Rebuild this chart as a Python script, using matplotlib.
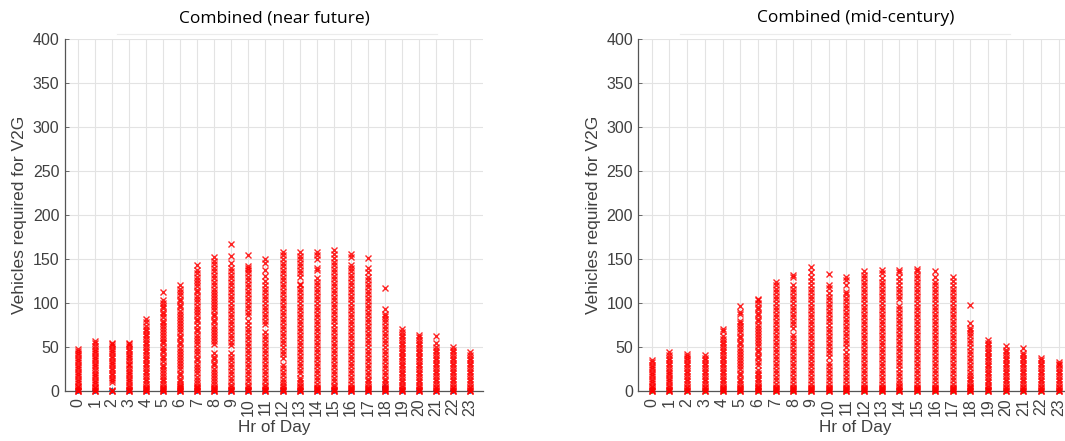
import matplotlib.pyplot as plt
from matplotlib.lines import Line2D

hours = list(range(24))
hour_labels = [str(h) for h in hours]

# near future: red x values per hour
near_future = [
    [0, 0, 1, 2, 4, 6, 9, 11, 14, 17, 19, 22, 25, 27, 30, 33, 35, 38, 41, 43, 46, 48],
    [0, 0, 1, 3, 5, 8, 10, 13, 16, 18, 21, 24, 27, 29, 32, 35, 37, 40, 43, 45, 48, 51, 54, 57],
    [0, 0, 1, 10, 13, 15, 18, 21, 24, 26, 29, 32, 34, 37, 40, 43, 45, 48, 51, 53, 55],
    [0, 0, 1, 2, 4, 7, 10, 12, 15, 18, 21, 23, 26, 29, 31, 34, 37, 40, 42, 45, 48, 51, 53, 55],
    [0, 0, 1, 2, 3, 5, 8, 11, 14, 17, 20, 23, 26, 29, 32, 35, 38, 41, 44, 47, 50, 53, 56, 59, 62, 65, 68, 71, 74, 78, 82],
    [0, 0, 1, 2, 3, 5, 8, 11, 14, 17, 20, 24, 27, 30, 34, 37, 40, 44, 47, 50, 54, 57, 60, 64, 67, 70, 74, 77, 80, 84, 87, 90, 94, 97, 100, 103, 112],
    [0, 0, 1, 2, 3, 4, 6, 8, 11, 14, 18, 21, 25, 28, 32, 35, 39, 42, 46, 49, 53, 56, 60, 63, 67, 70, 74, 77, 81, 84, 88, 91, 95, 98, 102, 105, 109, 112, 116, 120],
    [0, 0, 1, 2, 3, 4, 6, 9, 13, 16, 20, 24, 27, 31, 35, 38, 42, 46, 49, 53, 57, 60, 64, 68, 71, 75, 79, 82, 86, 90, 93, 97, 101, 104, 108, 112, 115, 119, 123, 126, 130, 134, 138, 143],
    [0, 0, 1, 2, 3, 5, 8, 11, 15, 18, 22, 25, 29, 32, 36, 39, 43, 53, 57, 60, 64, 67, 71, 74, 78, 81, 85, 88, 92, 95, 99, 102, 106, 109, 113, 116, 120, 124, 128, 132, 136, 140, 144, 148, 152],
    [0, 0, 1, 2, 4, 7, 11, 15, 19, 23, 27, 31, 35, 39, 43, 52, 56, 60, 64, 68, 72, 76, 80, 84, 88, 92, 96, 100, 104, 108, 112, 116, 120, 124, 128, 132, 136, 140, 145, 153, 167],
    [0, 0, 1, 2, 4, 7, 11, 15, 19, 23, 27, 31, 35, 39, 43, 47, 51, 55, 59, 63, 67, 71, 75, 79, 86, 90, 94, 98, 102, 106, 110, 114, 118, 122, 126, 130, 134, 138, 140, 142, 155],
    [0, 0, 1, 2, 4, 7, 11, 15, 19, 23, 27, 31, 35, 39, 43, 47, 51, 55, 59, 63, 67, 76, 80, 84, 88, 92, 96, 100, 104, 108, 112, 116, 120, 125, 131, 138, 145, 150],
    [0, 0, 1, 2, 4, 7, 10, 14, 18, 22, 26, 30, 38, 42, 46, 50, 54, 58, 62, 66, 70, 74, 78, 82, 86, 90, 94, 98, 102, 106, 110, 114, 118, 122, 126, 130, 134, 138, 142, 146, 150, 155, 158],
    [0, 0, 1, 2, 4, 6, 9, 12, 15, 20, 24, 28, 32, 36, 40, 44, 48, 52, 56, 60, 64, 68, 72, 76, 80, 84, 88, 92, 95, 100, 104, 108, 112, 116, 120, 122, 130, 134, 138, 142, 146, 150, 154, 158],
    [0, 0, 1, 2, 3, 5, 8, 12, 16, 20, 24, 28, 32, 36, 40, 44, 48, 52, 56, 60, 64, 68, 72, 76, 80, 84, 88, 92, 96, 100, 104, 108, 112, 116, 120, 124, 128, 138, 140, 150, 155, 158],
    [0, 0, 1, 2, 4, 7, 11, 15, 19, 23, 27, 31, 35, 39, 43, 47, 51, 55, 59, 63, 67, 71, 75, 79, 83, 87, 91, 95, 99, 103, 107, 111, 115, 119, 123, 127, 131, 135, 139, 143, 147, 151, 156, 160],
    [0, 0, 1, 2, 3, 5, 8, 12, 16, 20, 24, 28, 32, 36, 40, 44, 48, 52, 56, 60, 64, 68, 72, 76, 80, 84, 88, 92, 96, 100, 104, 108, 112, 116, 120, 124, 128, 132, 136, 140, 143, 152, 156],
    [0, 0, 1, 2, 3, 5, 8, 11, 14, 18, 22, 26, 30, 34, 38, 42, 46, 50, 54, 58, 62, 66, 70, 74, 78, 82, 86, 90, 94, 98, 102, 106, 110, 114, 118, 122, 126, 130, 135, 140, 151],
    [0, 0, 1, 2, 3, 5, 8, 11, 14, 18, 22, 26, 30, 34, 38, 42, 46, 50, 54, 58, 62, 66, 70, 74, 78, 82, 85, 88, 93, 117],
    [0, 0, 1, 2, 4, 7, 10, 13, 16, 19, 22, 25, 28, 31, 34, 37, 40, 43, 46, 49, 52, 55, 58, 61, 64, 67, 70],
    [0, 0, 1, 2, 4, 7, 10, 13, 16, 19, 22, 25, 28, 31, 34, 37, 40, 43, 46, 49, 52, 55, 58, 61, 64],
    [0, 0, 1, 3, 5, 8, 11, 14, 17, 20, 23, 26, 29, 32, 35, 38, 41, 44, 47, 50, 55, 62],
    [0, 0, 1, 3, 5, 8, 11, 14, 17, 20, 23, 26, 29, 32, 35, 38, 41, 44, 47, 50],
    [0, 0, 1, 3, 5, 8, 11, 14, 17, 20, 23, 26, 29, 32, 35, 38, 41, 44],
]

# mid-century: red x values per hour
mid_century = [
    [0, 0, 1, 2, 4, 6, 9, 11, 14, 17, 19, 22, 25, 27, 30, 33, 35],
    [0, 0, 1, 2, 4, 7, 10, 12, 15, 18, 21, 23, 26, 29, 32, 35, 38, 41, 44],
    [0, 0, 1, 3, 5, 8, 11, 14, 17, 20, 23, 26, 29, 32, 35, 38, 40, 42],
    [0, 0, 1, 3, 5, 8, 11, 14, 17, 20, 23, 26, 29, 32, 35, 38, 41],
    [0, 0, 1, 2, 3, 5, 8, 11, 14, 17, 20, 23, 26, 29, 32, 35, 38, 41, 44, 47, 50, 53, 56, 59, 62, 68, 71],
    [0, 0, 1, 2, 3, 5, 8, 11, 14, 18, 21, 25, 28, 32, 35, 39, 42, 46, 49, 53, 56, 60, 63, 67, 70, 74, 77, 80, 87, 90, 97],
    [0, 0, 1, 2, 3, 4, 6, 9, 12, 15, 18, 21, 24, 30, 33, 37, 40, 44, 47, 51, 54, 58, 61, 65, 68, 72, 75, 79, 82, 86, 89, 93, 96, 100, 103, 105],
    [0, 0, 1, 2, 3, 5, 8, 12, 16, 20, 24, 28, 32, 36, 40, 44, 48, 52, 56, 60, 64, 68, 72, 76, 80, 84, 88, 92, 96, 100, 104, 108, 112, 116, 120, 124],
    [0, 0, 1, 2, 3, 5, 8, 12, 16, 20, 24, 28, 32, 36, 40, 44, 48, 52, 56, 60, 64, 72, 76, 80, 84, 88, 92, 96, 100, 104, 108, 112, 116, 120, 130, 132],
    [0, 0, 1, 2, 3, 5, 8, 12, 16, 20, 24, 28, 32, 36, 40, 44, 48, 52, 56, 60, 64, 68, 72, 76, 80, 84, 88, 92, 96, 100, 104, 108, 112, 116, 120, 125, 130, 135, 141],
    [0, 0, 1, 2, 3, 5, 8, 12, 16, 20, 24, 28, 32, 39, 43, 47, 51, 55, 59, 63, 67, 71, 75, 79, 83, 87, 91, 95, 99, 103, 107, 111, 117, 120, 133],
    [0, 0, 1, 2, 3, 5, 8, 12, 16, 20, 24, 28, 32, 36, 40, 44, 50, 54, 58, 62, 66, 70, 74, 78, 82, 86, 90, 94, 98, 102, 106, 110, 113, 120, 126, 129],
    [0, 0, 1, 2, 3, 5, 8, 12, 16, 20, 24, 28, 32, 36, 40, 44, 48, 52, 56, 60, 64, 68, 72, 76, 80, 84, 88, 92, 96, 100, 104, 108, 112, 116, 120, 124, 128, 132, 136],
    [0, 0, 1, 2, 3, 5, 8, 12, 16, 20, 24, 28, 32, 36, 40, 44, 48, 52, 56, 60, 64, 68, 72, 76, 80, 84, 88, 92, 96, 100, 104, 108, 112, 116, 120, 124, 128, 134, 138],
    [0, 0, 1, 2, 4, 6, 9, 13, 17, 21, 25, 29, 33, 37, 41, 45, 49, 53, 57, 61, 65, 69, 73, 77, 81, 85, 89, 93, 97, 104, 108, 112, 116, 120, 125, 130, 135, 138],
    [0, 0, 1, 2, 3, 5, 8, 12, 16, 20, 24, 28, 32, 36, 40, 44, 48, 52, 56, 60, 64, 68, 72, 76, 80, 84, 88, 92, 96, 100, 104, 108, 112, 116, 120, 124, 128, 132, 136, 139],
    [0, 0, 1, 2, 3, 5, 8, 12, 16, 20, 24, 28, 32, 36, 40, 44, 48, 52, 56, 60, 64, 68, 72, 76, 80, 84, 88, 92, 96, 100, 104, 108, 112, 116, 120, 124, 129, 136],
    [0, 0, 1, 2, 3, 5, 8, 12, 16, 20, 24, 28, 32, 36, 40, 44, 48, 52, 56, 60, 64, 68, 72, 76, 80, 84, 88, 92, 96, 100, 104, 108, 112, 116, 120, 125, 130],
    [0, 0, 1, 2, 3, 4, 6, 9, 12, 15, 18, 22, 26, 30, 34, 38, 42, 46, 50, 54, 58, 62, 66, 69, 72, 77, 98],
    [0, 0, 1, 2, 4, 7, 10, 13, 16, 19, 22, 25, 28, 31, 34, 37, 40, 43, 46, 49, 52, 55, 58],
    [0, 0, 1, 3, 5, 8, 11, 14, 17, 20, 23, 26, 29, 32, 35, 38, 41, 44, 47, 51],
    [0, 0, 1, 3, 5, 8, 11, 14, 17, 20, 23, 26, 29, 32, 35, 38, 41, 43, 49],
    [0, 0, 1, 3, 5, 8, 11, 14, 17, 20, 23, 26, 29, 32, 35, 38],
    [0, 0, 1, 3, 5, 8, 11, 14, 17, 20, 23, 26, 29, 31, 33],
]

# second series sitting on the zero line
nf_base_hours = [0, 1, 2, 3, 4, 5, 6, 7, 8, 9, 10, 11, 12, 13, 14, 15, 16, 17, 18, 18, 18, 18, 19, 20, 21, 22, 23]
nf_base_vals = [0, 0, 0, 0, 0, 0, 0, 0, 0, 0, 0, 0, 0, 0, 0, 0, 0, 0, 0, 2, 4, 5, 0, 0, 0, 0, 0]
mc_base_hours = [0, 1, 2, 3, 4, 5, 6, 7, 8, 9, 10, 11, 12, 13, 14, 15, 16, 17, 18, 19, 20, 21, 22, 23]
mc_base_vals = [0, 0, 0, 0, 0, 0, 0, 0, 0, 0, 0, 0, 0, 0, 0, 0, 0, 0, 0, 0, 0, 0, 0, 0]

titles = ['Combined (near future)', 'Combined (mid-century)']

plt.rcParams['font.family'] = ['Liberation Sans', 'DejaVu Sans']

fig = plt.figure(figsize=(10.65, 4.41), dpi=100)
ax1 = fig.add_axes([0.061, 0.1134, 0.3925, 0.798])
ax2 = fig.add_axes([0.5995, 0.1134, 0.407, 0.798])

panels = [
    (ax1, near_future, nf_base_hours, nf_base_vals, '#0072BD', '+'),
    (ax2, mid_century, mc_base_hours, mc_base_vals, '#3cb043', '+'),
]

for i, (ax, data, bh, bv, bcol, bmark) in enumerate(panels):
    for h, vals in zip(hours, data):
        ax.plot([h] * len(vals), vals, 'x', color='red', ms=4.6, mew=1.0,
                alpha=0.85, clip_on=False, zorder=3)
    ax.plot(bh, bv, bmark, color=bcol, ms=5, mew=1.2, clip_on=False, zorder=2)

    ax.set_xlim(-0.75, 23.75)
    ax.set_ylim(0, 400)
    ax.set_yticks(range(0, 401, 50))
    ax.set_xticks(hours)
    ax.set_xticklabels(hour_labels, rotation=90)
    ax.grid(True, color='#e3e3e3', lw=0.8)
    ax.set_axisbelow(True)
    for s in ['top', 'right']:
        ax.spines[s].set_visible(False)
    for s in ['left', 'bottom']:
        ax.spines[s].set_color('#555555')
        ax.spines[s].set_linewidth(0.9)
    ax.tick_params(direction='in', length=3, width=0.6, colors='#555555',
                   labelcolor='#404040')
    ax.tick_params(axis='y', labelsize=11.5, pad=4)
    ax.tick_params(axis='x', labelsize=11.5, pad=5)
    ax.set_xlabel('Hr of Day', fontsize=12.3, color='#404040', labelpad=3)
    ax.set_ylabel('Vehicles required for V2G', fontsize=12.5, color='#404040', labelpad=4)
    ax.set_title(titles[i], fontsize=12.5, family=['Open Sans', 'DejaVu Sans'],
                 color='black', pad=12)

# faint leftover box line under the titles
fig.add_artist(Line2D([117 / 1065, 437 / 1065], [1 - 34 / 441, 1 - 34 / 441],
                      color='#ececec', lw=0.8))
fig.add_artist(Line2D([680 / 1065, 1010 / 1065], [1 - 34 / 441, 1 - 34 / 441],
                      color='#ececec', lw=0.8))

plt.savefig('out.png', dpi=100)
